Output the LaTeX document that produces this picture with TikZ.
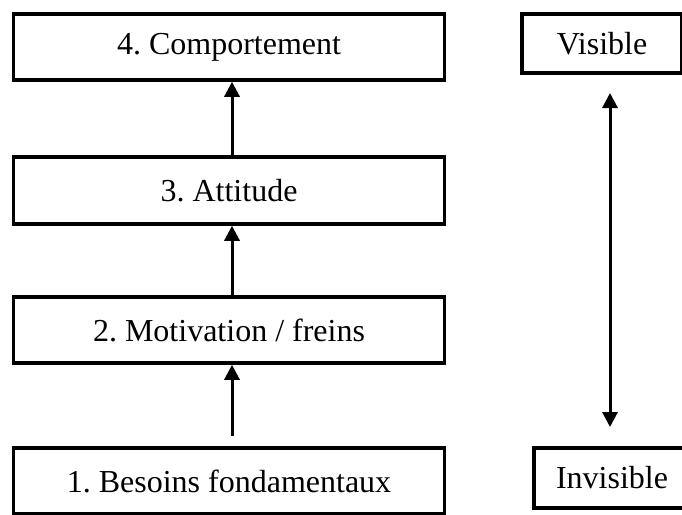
\documentclass[tikz,border=0pt]{standalone}
\usepackage{fontspec}
\setmainfont{Liberation Serif}
\usetikzlibrary{arrows.meta}
\begin{document}
\frenchspacing
\begin{tikzpicture}[x=1pt,y=1pt,
  box/.style={draw=black,line width=3.5pt,fill=white,inner sep=0pt,
    font=\fontsize{32}{38}\selectfont},
  arr/.style={line width=3pt,-{Triangle[width=15pt,length=15pt]}},
  darr/.style={line width=3pt,{Triangle[width=15pt,length=15pt]}-{Triangle[width=15pt,length=15pt]}}]
\useasboundingbox (0,0) rectangle (682,-514);
\fill[white] (0,0) rectangle (682,-514);
\node[box,minimum width=431pt,minimum height=66pt] (b4) at (229,-47) {4. Comportement};
\node[box,minimum width=431pt,minimum height=67pt] (b3) at (229,-190.5) {3. Attitude};
\node[box,minimum width=431pt,minimum height=66pt] (b2) at (229,-330) {2. Motivation / freins};
\node[box,minimum width=431pt,minimum height=66pt] (b1) at (229,-481) {1. Besoins fondamentaux};
\node[box,minimum width=160pt,minimum height=59pt] (vis) at (602,-43.5) {Visible};
\node[box,minimum width=156pt,minimum height=60pt] (inv) at (612,-478) {Invisible};
\draw[arr] ([xshift=3pt]b3.north) -- ([xshift=3pt]b4.south);
\draw[arr] ([xshift=3pt]b2.north) -- ([xshift=3pt]b3.south);
\draw[arr,shorten <=10pt] ([xshift=3pt]b1.north) -- ([xshift=3pt]b2.south);
\coordinate (vtop) at (610,-93);
\coordinate (vbot) at (610,-427);
\draw[darr] (vtop) -- (vbot);
\end{tikzpicture}
\end{document}
